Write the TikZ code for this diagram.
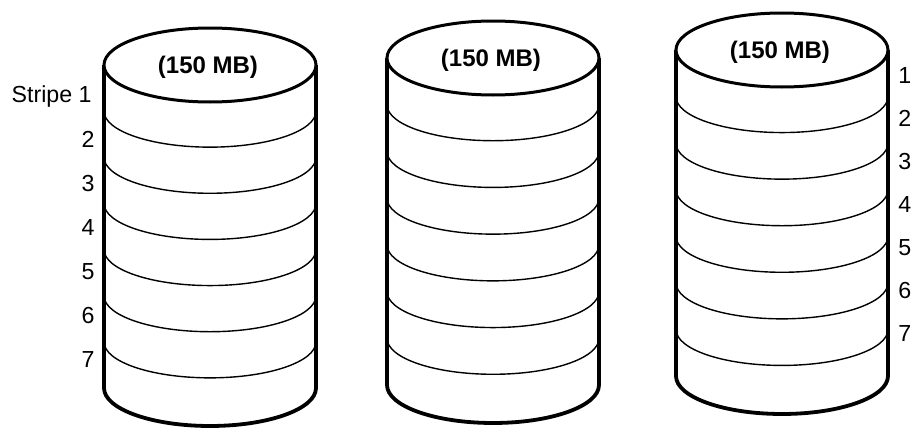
\documentclass[tikz,border=0pt]{standalone}
\usepackage{fontspec}
\setmainfont{Liberation Sans}

\begin{document}
\begin{tikzpicture}[
  x=0.5pt, y=-0.5pt,
  font=\fontsize{11.6}{13}\selectfont,
  rim/.style={draw=black, line width=1.9pt, line join=round},
  lid/.style={draw=black, line width=1.5pt, fill=white},
  stripe/.style={draw=black, line width=0.7pt},
  size/.style={font=\fontsize{12}{14}\selectfont\bfseries},
  num/.style={inner sep=0pt}
]
\useasboundingbox (0,0) rectangle (912,428);

% three disks: centre x / top rim y / bottom rim y
\foreach \cx/\ty/\by [count=\d] in {210/65/388, 493/58/385, 782/50/376} {
  \draw[rim] (\cx-106,\ty) -- (\cx-106,\by)
    arc[start angle=180, end angle=0, x radius=106, y radius=38] -- (\cx+106,\ty);
  \foreach \k in {1,...,6}
    \draw[stripe] (\cx-106,{\ty+\k*(\by-\ty)/7})
      arc[start angle=180, end angle=0, x radius=106, y radius=36];
  \draw[lid] (\cx,\ty) ellipse [x radius=106, y radius=37];
  \node[size] (cap\d) at (\cx-2,\ty+2) {(150 MB)};
}

% stripe numbers, left disk
\node[num, anchor=mid east] (l1) at (92,97) {Stripe 1};
\node[num, anchor=mid east] (l2) at (95,142) {2};
\node[num, anchor=mid east] (l3) at (95,186) {3};
\node[num, anchor=mid east] (l4) at (95,230) {4};
\node[num, anchor=mid east] (l5) at (95,274) {5};
\node[num, anchor=mid east] (l6) at (95,318) {6};
\node[num, anchor=mid east] (l7) at (95,362) {7};

% stripe numbers, right disk
\node[num, anchor=mid west] (r1) at (898,78) {1};
\node[num, anchor=mid west] (r2) at (898,121) {2};
\node[num, anchor=mid west] (r3) at (898,164) {3};
\node[num, anchor=mid west] (r4) at (898,207) {4};
\node[num, anchor=mid west] (r5) at (898,250) {5};
\node[num, anchor=mid west] (r6) at (898,293) {6};
\node[num, anchor=mid west] (r7) at (898,336) {7};
\end{tikzpicture}
\end{document}
